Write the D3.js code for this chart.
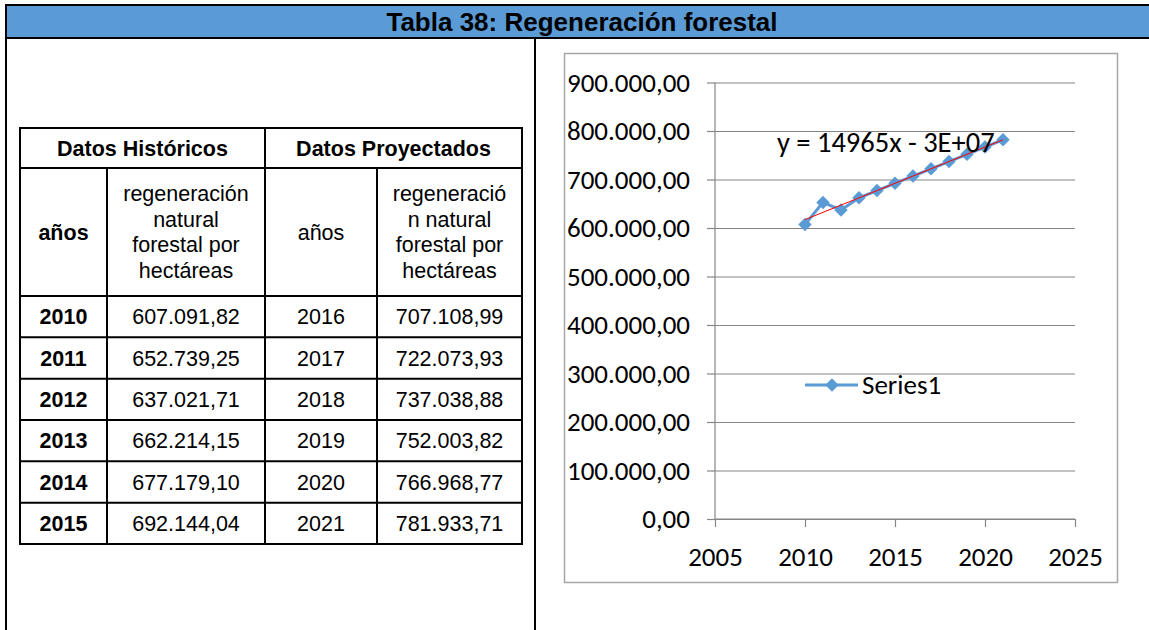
<!DOCTYPE html>
<html>
<head>
<meta charset="utf-8">
<script src="https://cdn.jsdelivr.net/npm/d3@7"></script>
<style>
  body { margin: 0; background: #fff; }
  svg { display: block; }
</style>
</head>
<body>
<svg id="canvas"></svg>
<script>
// Data
let title = "Tabla 38: Regeneración forestal";
let histYears = [2010, 2011, 2012, 2013, 2014, 2015];
let histValues = [607091.82, 652739.25, 637021.71, 662214.15, 677179.10, 692144.04];
let projYears = [2016, 2017, 2018, 2019, 2020, 2021];
let projValues = [707108.99, 722073.93, 737038.88, 752003.82, 766968.77, 781933.71];
let yTicks = [0, 100000, 200000, 300000, 400000, 500000, 600000, 700000, 800000, 900000];
let xTicks = [2005, 2010, 2015, 2020, 2025];
let seriesName = "Series1";
let trendLabel = "y = 14965x - 3E+07";

let width = 1149;
let height = 630;

let canvas = d3.select("#canvas").attr("width", width).attr("height", height);

let locale = d3.formatLocale({ decimal: ",", thousands: ".", grouping: [3], currency: ["", ""] });
let fmt = locale.format(",.2f");

let blue = "#5b9bd5";
let tableFont = "'Liberation Sans', Arial, sans-serif";
let chartFont = "Carlito, Calibri, Lato, sans-serif";

// Frame and title bar
let drawFrame = () => {
  canvas.append("rect")
    .attr("x", 6).attr("y", 5)
    .attr("width", width + 10).attr("height", 33)
    .attr("fill", blue).attr("stroke", "#000").attr("stroke-width", 2);
  canvas.append("line")
    .attr("x1", 6).attr("x2", 6).attr("y1", 38).attr("y2", height)
    .attr("stroke", "#000").attr("stroke-width", 2);
  canvas.append("line")
    .attr("x1", 535).attr("x2", 535).attr("y1", 38).attr("y2", height)
    .attr("stroke", "#000").attr("stroke-width", 2);
  canvas.append("text")
    .attr("x", 582).attr("y", 31)
    .attr("text-anchor", "middle")
    .style("font-family", "'Liberation Sans Narrow', 'Arial Narrow', 'Liberation Sans', sans-serif")
    .style("font-weight", "bold").style("font-size", "26px")
    .text(title);
};

// Table
let drawTable = () => {
  let colX = [20, 107, 265, 377, 522];
  let top = 128, headBottom = 168, subBottom = 296, rowH = (544 - 296) / 6;
  let g = canvas.append("g").style("font-family", tableFont).style("font-size", "21.5px").attr("fill", "#000");

  let rows = histYears.map((yr, i) => [yr, histValues[i], projYears[i], projValues[i]]);
  let yScale = d3.scaleLinear().domain([0, rows.length]).range([subBottom, subBottom + rowH * rows.length]);

  let lineAttrs = (sel) => sel.attr("stroke", "#000").attr("stroke-width", 2);

  // outer border
  g.append("rect").attr("x", colX[0]).attr("y", top)
    .attr("width", colX[4] - colX[0]).attr("height", yScale(rows.length) - top)
    .attr("fill", "none").call(lineAttrs);
  // horizontal lines
  [headBottom, subBottom].concat(d3.range(1, rows.length).map(yScale)).forEach((y) => {
    g.append("line").attr("x1", colX[0]).attr("x2", colX[4]).attr("y1", y).attr("y2", y).call(lineAttrs);
  });
  // vertical lines
  g.append("line").attr("x1", colX[2]).attr("x2", colX[2]).attr("y1", top).attr("y2", yScale(rows.length)).call(lineAttrs);
  [colX[1], colX[3]].forEach((x) => {
    g.append("line").attr("x1", x).attr("x2", x).attr("y1", headBottom).attr("y2", yScale(rows.length)).call(lineAttrs);
  });

  let base = 7.5; // baseline offset from cell centre

  // group headers
  g.append("text").attr("x", (colX[0] + colX[2]) / 2).attr("y", (top + headBottom) / 2 + base)
    .attr("text-anchor", "middle").style("font-weight", "bold").text("Datos Históricos");
  g.append("text").attr("x", (colX[2] + colX[4]) / 2).attr("y", (top + headBottom) / 2 + base)
    .attr("text-anchor", "middle").style("font-weight", "bold").text("Datos Proyectados");

  // sub headers
  let midSub = (headBottom + subBottom) / 2;
  g.append("text").attr("x", (colX[0] + colX[1]) / 2).attr("y", midSub + base)
    .attr("text-anchor", "middle").style("font-weight", "bold").text("años");
  g.append("text").attr("x", (colX[2] + colX[3]) / 2).attr("y", midSub + base)
    .attr("text-anchor", "middle").text("años");
  let multi = (x, lines) => {
    let t = g.append("text").attr("text-anchor", "middle");
    lines.forEach((s, i) => {
      t.append("tspan").attr("x", x).attr("y", midSub + base + (i - 1.5) * 25.7).text(s);
    });
  };
  multi((colX[1] + colX[2]) / 2, ["regeneración", "natural", "forestal por", "hectáreas"]);
  multi((colX[3] + colX[4]) / 2, ["regeneració", "n natural", "forestal por", "hectáreas"]);

  // body
  rows.forEach((r, i) => {
    let cy = (yScale(i) + yScale(i + 1)) / 2 + base;
    g.append("text").attr("x", (colX[0] + colX[1]) / 2).attr("y", cy).attr("text-anchor", "middle")
      .style("font-weight", "bold").text(r[0]);
    g.append("text").attr("x", (colX[1] + colX[2]) / 2).attr("y", cy).attr("text-anchor", "middle").text(fmt(r[1]));
    g.append("text").attr("x", (colX[2] + colX[3]) / 2).attr("y", cy).attr("text-anchor", "middle").text(r[2]);
    g.append("text").attr("x", (colX[3] + colX[4]) / 2).attr("y", cy).attr("text-anchor", "middle").text(fmt(r[3]));
  });
};

// Chart
let drawChart = () => {
  canvas.append("rect").attr("x", 564.5).attr("y", 53.5).attr("width", 553).attr("height", 529)
    .attr("fill", "#fff").attr("stroke", "#a6a6a6").attr("stroke-width", 1.5);

  let x = d3.scaleLinear().domain([2005, 2025]).range([715, 1075]);
  let y = d3.scaleLinear().domain([0, 900000]).range([519, 82.5]);

  let allYears = histYears.concat(projYears);
  let allValues = histValues.concat(projValues);
  let points = allYears.map((yr, i) => ({ x: yr, y: allValues[i] }));

  let gridColor = "#868686";
  let labelSize = "27px";

  // gridlines
  let grid = canvas.append("g").attr("transform", "translate(715,0)")
    .call(d3.axisRight(y).tickValues(yTicks).tickSize(360).tickFormat(""));
  grid.select(".domain").remove();
  grid.selectAll("line").attr("stroke", gridColor).attr("stroke-width", 1.2);

  // y axis
  let yAxis = canvas.append("g").attr("transform", "translate(715,0)")
    .call(d3.axisLeft(y).tickValues(yTicks).tickSize(8).tickPadding(17).tickFormat(fmt));
  yAxis.select(".domain").attr("stroke", gridColor).attr("stroke-width", 1.2).attr("d", "M0,519V82.5");
  yAxis.selectAll("line").attr("stroke", gridColor).attr("stroke-width", 1.2);
  yAxis.selectAll("text").style("font-family", chartFont).style("font-size", labelSize).attr("fill", "#000");

  // x axis
  let xAxis = canvas.append("g").attr("transform", "translate(0,519)")
    .call(d3.axisBottom(x).tickValues(xTicks).tickSize(8).tickPadding(20).tickFormat(d3.format("d")));
  xAxis.select(".domain").attr("stroke", gridColor).attr("stroke-width", 1.2).attr("d", "M715,0H1075");
  xAxis.selectAll("line").attr("stroke", gridColor).attr("stroke-width", 1.2);
  xAxis.selectAll("text").style("font-family", chartFont).style("font-size", labelSize).attr("fill", "#000");

  // series
  let line = d3.line().x((d) => x(d.x)).y((d) => y(d.y));
  canvas.append("path").datum(points).attr("d", line)
    .attr("fill", "none").attr("stroke", blue).attr("stroke-width", 3);
  let diamond = d3.symbol().type(d3.symbolDiamond2).size(115);
  canvas.selectAll(".pt").data(points).enter().append("path").attr("class", "pt")
    .attr("d", diamond)
    .attr("transform", (d) => `translate(${x(d.x)},${y(d.y)})`)
    .attr("fill", blue);

  // trend line (least squares)
  let mx = d3.mean(points, (d) => d.x);
  let my = d3.mean(points, (d) => d.y);
  let slope = d3.sum(points, (d) => (d.x - mx) * (d.y - my)) / d3.sum(points, (d) => (d.x - mx) ** 2);
  let icpt = my - slope * mx;
  let ends = d3.extent(allYears).map((yr) => ({ x: yr, y: slope * yr + icpt }));
  canvas.append("path").datum(ends).attr("d", line)
    .attr("fill", "none").attr("stroke", "#ff0000").attr("stroke-width", 1);

  canvas.append("text").attr("x", 777).attr("y", 152)
    .style("font-family", chartFont).style("font-size", "28.5px").attr("fill", "#000")
    .text(trendLabel);

  // legend
  let lg = canvas.append("g").attr("transform", "translate(805,385)");
  lg.append("line").attr("x1", 0).attr("x2", 53).attr("y1", 0).attr("y2", 0)
    .attr("stroke", blue).attr("stroke-width", 3);
  lg.append("path").attr("d", diamond).attr("transform", "translate(27,0)").attr("fill", blue);
  lg.append("text").attr("x", 57).attr("y", 9)
    .style("font-family", chartFont).style("font-size", labelSize).attr("fill", "#000")
    .text(seriesName);
};

drawFrame();
drawTable();
drawChart();
</script>
</body>
</html>
